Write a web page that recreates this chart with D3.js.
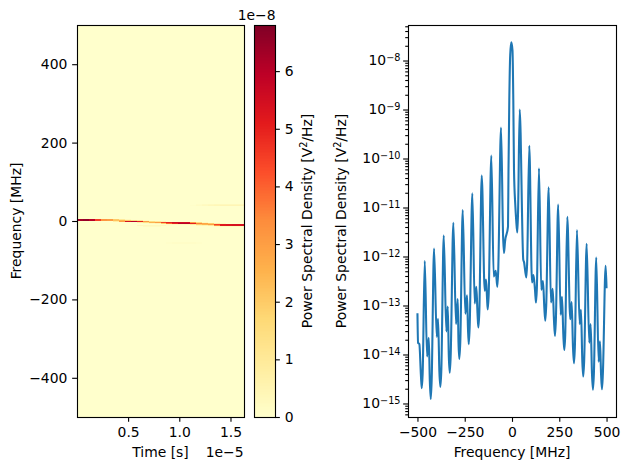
<!DOCTYPE html>
<html><head><meta charset="utf-8">
<script src="https://cdn.jsdelivr.net/npm/d3@7"></script>
<style>
html,body{margin:0;padding:0;background:#fff}
svg{display:block}
text{font-family:"DejaVu Sans",sans-serif;font-size:13.9px;fill:#000}
.axis path,.axis line{stroke:#000;stroke-width:1.11px}
.axis text{font-family:"DejaVu Sans",sans-serif;font-size:13.9px}
</style></head><body><div id="c"></div>
<script>
// Spectrogram: time bins (units of 1e-5 s), frequency rows (MHz), power (units of 1e-8)
const timeEdgeStart = 0.001, timeEdgeStop = 1.632, timeBinCount = 28;
const freqRows = [42.1, 39.5, 3.8, 1.3, -1.3, -3.8, -6.4, -8.9, -11.5, -14, -56, -58.6];
const rowWidthMHz = 2.55;
const powerRows = [
 [0,0,0,0,0,0,0,0,0,0,0,0,0,0,0,0,0,0,0,0,0.1,0.2,0.25,0.3,0.3,0.3,0.3,0.3],
 [0,0,0,0,0,0,0,0,0,0,0,0,0,0,0,0,0,0,0,0.05,0.15,0.25,0.35,0.4,0.45,0.45,0.45,0.45],
 [6.3,6.5,6,4.5,3.2,3,2,1,0.3,0,0,0,0,0,0,0,0,0,0,0,0,0,0,0,0,0,0,0],
 [6.3,6.5,6,4.5,3.2,3,2.2,2.5,2,1.5,1,0.2,0,0,0,0,0,0,0,0,0,0,0,0,0,0,0,0],
 [0,0,0,0,0,0,0.8,3,5.5,6,5,3,1.5,1,0.5,0,0,0,0,0,0,0,0,0,0,0,0,0],
 [0,0,0,0,0,0,0,0,0,0,0.8,1.5,2.5,3,4.5,5,5.5,5.5,5.5,3,1.5,0.3,0,0,0,0,0,0],
 [0,0,0,0,0,0,0,0,0,0,0,0.1,0.3,0.5,2,4,5,6,6,5,3.5,2.8,2,0.8,0.3,0,0,0],
 [0,0,0,0,0,0,0,0,0,0,0,0,0,0,0,0.2,0.3,0.3,0.4,1,2,2.5,3,4.5,5.2,5.3,5.4,5.4],
 [0,0,0,0,0,0,0,0,0,0,0.3,0.3,0.3,0.3,0.3,0.1,0,0,0,0,0.4,0.5,1,3.5,5.2,5.3,5.4,5.4],
 [0,0,0,0,0,0,0,0,0,0,0,0.2,0.2,0.2,0,0,0,0,0,0,0,0,0,0.2,0.3,0.3,0.3,0.3],
 [0,0,0,0,0,0,0,0,0,0,0,0,0,0,0,0.05,0.1,0.1,0.1,0.1,0.05,0,0,0,0,0,0,0],
 [0,0,0,0,0,0,0,0,0,0,0,0,0,0,0,0.05,0.1,0.1,0.1,0.1,0.05,0,0,0,0,0,0,0]
];
const colorMax = 6.8;

// Averaged spectrum: frequency (MHz), log10 power
const specFreq = [-500,-496.8,-489.9,-482,-477.2,-472.5,-461.4,-449.2,-440.2,-434.5,-429.7,-425,-412.2,-398,-391.1,-384,-378.9,-374,-361,-347.2,-339.8,-334,-329.3,-324.5,-310.2,-296,-287,-283,-278.5,-273.5,-260.6,-246.8,-237.8,-233,-228.8,-224,-209.8,-197.1,-188.7,-182.5,-178.1,-173,-160.1,-144.3,-137.4,-132,-128.4,-123.5,-109.4,-96.7,-86.1,-77.7,-73,-58.1,-47,-42.3,-37,-21.1,-18.5,-14.3,-9.5,-3.7,2.6,6.9,10.6,17.4,22,28,32,40.7,59.7,63.4,75.6,80,91.4,105.7,113.6,122,126.8,131.5,142.7,154.9,163.8,171,176,181,194,206.1,215.1,222,227.3,232,244.2,257.4,264.3,271.5,276.4,281.5,292.3,308.1,315.5,322.5,327.7,332.5,343.5,357.8,364.7,372,376.8,381.5,394.8,408.5,415.9,423,428.1,433,445.5,458.2,465.1,471,475.7,480.5,495.2,500];
const specLog = [-13.16,-13.76,-13.79,-14.4,-14.69,-14.4,-12.09,-14.04,-13.66,-14.55,-14.91,-14.55,-11.84,-13.64,-13.27,-14.35,-14.66,-14.35,-11.57,-13.53,-13.02,-14.05,-14.37,-14.05,-11.31,-13.38,-12.87,-13.75,-14.09,-13.75,-11.05,-13.17,-12.79,-13.45,-13.79,-13.45,-10.71,-12.96,-12.62,-13.15,-13.45,-13.15,-10.35,-12.70,-12.47,-12.85,-13.08,-12.8,-9.94,-12.41,-12.29,-12.62,-12.3,-9.37,-11.6,-11.93,-11.7,-11.39,-10.23,-8.81,-7.89,-7.63,-7.79,-8.81,-10.23,-10.95,-11.25,-11.51,-11.1,-9.0,-12.07,-12.11,-12.43,-12.15,-9.74,-12.53,-12.38,-12.7,-12.94,-12.65,-10.2,-12.68,-12.5,-13.05,-13.31,-13.0,-10.59,-12.94,-12.66,-13.3,-13.62,-13.3,-10.94,-13.19,-12.82,-13.6,-13.91,-13.6,-11.19,-13.28,-12.93,-13.85,-14.18,-13.85,-11.46,-13.38,-13.09,-14.15,-14.45,-14.15,-11.74,-13.76,-13.38,-14.4,-14.72,-14.4,-12.02,-14.15,-13.73,-14.4,-14.71,-14.4,-12.19,-12.65];

const freqTicks = [-400,-200,0,200,400];
const timeTicks = [0.5,1.0,1.5];
const colorTicks = [0,1,2,3,4,5,6];
const specXTicks = [-500,-250,0,250,500];
const specDecades = [-15,-14,-13,-12,-11,-10,-9,-8];
const minorSubs = [2,3,4,5,6,7,8,9];

const W=630,H=470;
const svg=d3.select("#c").append("svg").attr("width",W).attr("height",H);
const minus=s=>String(s).replace("-","\u2212");
const plotTop=25,plotBottom=417;

const stops=d3.schemeYlOrRd[9];
const color=d3.scaleLinear().domain(stops.map((d,i)=>colorMax*i/8)).range(stops);

// Left panel
const xT=d3.scaleLinear().domain([timeEdgeStart,timeEdgeStop]).range([77,244]);
const yF=d3.scaleLinear().domain([-500,500]).range([plotBottom,plotTop]);
const leftPanel=svg.append("g").attr("shape-rendering","crispEdges");
leftPanel.append("rect").attr("x",77).attr("y",plotTop).attr("width",167).attr("height",plotBottom-plotTop).attr("fill",color(0));
const dt=(timeEdgeStop-timeEdgeStart)/timeBinCount;
powerRows.forEach((row,r)=>{
  leftPanel.append("g").selectAll("rect").data(row.map((v,i)=>({v,i})).filter(d=>d.v>0)).join("rect")
    .attr("x",d=>xT(timeEdgeStart+d.i*dt))
    .attr("width",d=>xT(timeEdgeStart+(d.i+1)*dt)-xT(timeEdgeStart+d.i*dt))
    .attr("y",yF(freqRows[r]+rowWidthMHz/2))
    .attr("height",yF(freqRows[r]-rowWidthMHz/2)-yF(freqRows[r]+rowWidthMHz/2))
    .attr("fill",d=>color(d.v));
});
function drawFrame(x0,x1){
  svg.append("rect").attr("x",x0+.5).attr("y",plotTop+.5).attr("width",x1-x0).attr("height",plotBottom-plotTop)
   .attr("fill","none").attr("stroke","#000").attr("stroke-width",1.11);
}
drawFrame(77,244);
svg.append("g").attr("class","axis").attr("transform",`translate(0,${plotBottom})`)
  .call(d3.axisBottom(xT).tickValues(timeTicks).tickFormat(d3.format(".1f")).tickSize(4.86).tickPadding(4.8).tickSizeOuter(0))
  .call(g=>g.select(".domain").remove());
svg.append("g").attr("class","axis").attr("transform","translate(77,0)")
  .call(d3.axisLeft(yF).tickValues(freqTicks).tickFormat(minus).tickSize(4.86).tickPadding(4.8).tickSizeOuter(0))
  .call(g=>g.select(".domain").remove());
svg.append("text").attr("x",160.5).attr("y",457).attr("text-anchor","middle").text("Time [s]");
svg.append("text").attr("x",243.5).attr("y",457).attr("text-anchor","end").text("1e\u22125");
svg.append("text").attr("transform","translate(21,221) rotate(-90)").attr("text-anchor","middle").text("Frequency [MHz]");

// Colorbar
const yC=d3.scaleLinear().domain([0,colorMax]).range([plotBottom,plotTop]);
const barValues=d3.range(0,colorMax,colorMax/256);
svg.append("g").attr("shape-rendering","crispEdges").selectAll("rect").data(barValues).join("rect")
  .attr("x",254).attr("width",21)
  .attr("y",d=>yC(d+colorMax/256)).attr("height",d=>yC(d)-yC(d+colorMax/256)+1)
  .attr("fill",d=>color(d));
drawFrame(254,275);
svg.append("g").attr("class","axis").attr("transform","translate(275,0)")
  .call(d3.axisRight(yC).tickValues(colorTicks).tickFormat(d3.format("d")).tickSize(4.86).tickPadding(4.8).tickSizeOuter(0))
  .call(g=>g.select(".domain").remove());
svg.append("text").attr("x",275.5).attr("y",20).attr("text-anchor","end").text("1e\u22128");
function psdLabel(x){
  const t=svg.append("text").attr("transform",`translate(${x},221) rotate(-90)`).attr("text-anchor","middle");
  t.append("tspan").text("Power Spectral Density [V");
  t.append("tspan").attr("dy",-5).style("font-size","9.7px").text("2");
  t.append("tspan").attr("dy",5).text("/Hz]");
}
psdLabel(312);

// Right panel
const xS=d3.scaleLinear().domain([-550,550]).range([408,616]);
const yS=d3.scaleLinear().domain([-15.276,-7.275]).range([plotBottom,plotTop]);
const specLine=d3.line().x(d=>xS(d[0])).y(d=>yS(d[1])).curve(d3.curveMonotoneX);
svg.append("path").datum(specFreq.map((f,i)=>[f,specLog[i]])).attr("d",specLine)
  .attr("fill","none").attr("stroke","#1f77b4").attr("stroke-width",2.08).attr("stroke-linejoin","round");
drawFrame(408,616);
svg.append("g").attr("class","axis").attr("transform",`translate(0,${plotBottom})`)
  .call(d3.axisBottom(xS).tickValues(specXTicks).tickFormat(minus).tickSize(4.86).tickPadding(4.8).tickSizeOuter(0))
  .call(g=>g.select(".domain").remove());
const minorVals=[];
[-16,...specDecades].forEach(d=>minorSubs.forEach(s=>{const v=d+Math.log10(s);if(v>yS.domain()[0]&&v<yS.domain()[1])minorVals.push(v);}));
svg.append("g").attr("class","axis").attr("transform","translate(408,0)")
  .call(d3.axisLeft(yS).tickValues(minorVals).tickFormat("").tickSize(2.78).tickSizeOuter(0))
  .call(g=>g.select(".domain").remove());
const yAx=svg.append("g").attr("class","axis").attr("transform","translate(408,0)")
  .call(d3.axisLeft(yS).tickValues(specDecades).tickFormat("").tickSize(4.86).tickSizeOuter(0));
yAx.select(".domain").remove();
yAx.selectAll(".tick text").each(function(d){
  const t=d3.select(this).attr("x",-7.5).attr("dy",".32em").attr("text-anchor","end");
  t.append("tspan").text("10");
  t.append("tspan").attr("dy","-0.42em").style("font-size","9.7px").text(minus(d));
});
svg.append("text").attr("x",512).attr("y",457).attr("text-anchor","middle").text("Frequency [MHz]");
psdLabel(346);
</script></body></html>
